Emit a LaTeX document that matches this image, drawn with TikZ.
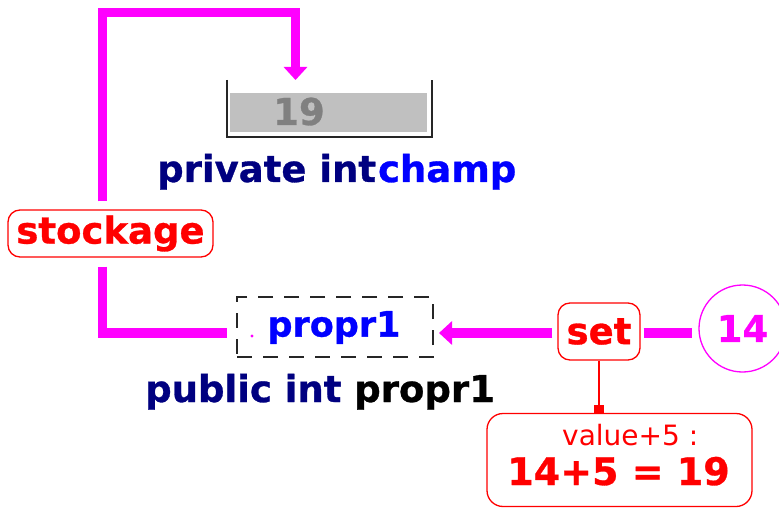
\documentclass[tikz,border=0pt]{standalone}
\usepackage{fontspec}
\setmainfont{DejaVu Sans}[BoldFeatures={FakeBold=0.8}]
\usetikzlibrary{arrows.meta}
\definecolor{navy}{RGB}{0,0,128}
\definecolor{pblue}{RGB}{0,0,255}
\definecolor{mag}{RGB}{255,0,255}
\definecolor{pred}{RGB}{255,0,0}
\definecolor{cellgray}{RGB}{192,192,192}
\definecolor{digitgray}{RGB}{128,128,128}
\newcommand{\bigb}{\fontsize{37}{40}\selectfont\bfseries}
\begin{document}
\begin{tikzpicture}[x=1pt,y=-1pt,
  magline/.style={draw=mag,line width=9.5pt},
  magtip/.style={-{Triangle[length=13pt,width=23pt]}},
  redbox/.style={draw=pred,line width=1.3pt,rounded corners=12pt,inner sep=0pt},
  lbl/.style={inner sep=0pt,anchor=base west,font=\bigb},
]
\useasboundingbox (0,0) rectangle (779,508);
\clip (0,0) rectangle (779,508);
\fill[white] (0,0) rectangle (779,508);

% storage cell
\node[fill=cellgray,minimum width=197pt,minimum height=39pt,inner sep=0pt] (cell) at (328.5,112.5) {};
\draw[line width=2pt,black!85] (227,80) -- (227,137) -- (432,137) -- (432,80);
\node[inner sep=0pt,text=digitgray,font=\bigb] (val) at (299,111.5) {19};
\coordinate (boxtop) at (295.5,80);
\coordinate (topright) at (295.5,12.5);

\node[lbl] (privlabel) at (157,182) {\textcolor{navy}{private int}\hspace{2pt}\textcolor{pblue}{champ}};

% stockage
\node[redbox,minimum width=205pt,minimum height=47pt,text=pred,font=\bigb] (stockage) at (110.5,233.5) {stockage};

% property box
\node[draw=black!85,line width=2pt,dash pattern=on 15pt off 11pt,minimum width=196pt,minimum height=60pt,inner sep=0pt] (propbox) at (335,327) {};
\node[inner sep=0pt,text=pblue,font=\fontsize{35}{38}\selectfont\bfseries] (proptext) at (334,327.5) {propr1};
\fill[mag] (252,336) circle (1.6pt);

\node[lbl] (publabel) at (145,402) {\textcolor{navy}{public int} \textcolor{black}{propr1}};

% set
\node[redbox,minimum width=82pt,minimum height=57pt,text=pred,font=\bigb] (set) at (599,331.5) {set};
% value 14
\node[draw=mag,line width=1.3pt,circle,minimum size=87pt,inner sep=0pt,text=mag,font=\bigb] (circ) at (742.5,328.5) {14};

% calculation
\node[draw=pred,line width=1.3pt,rounded corners=16pt,minimum width=265pt,minimum height=93pt,inner sep=0pt] (calc) at (619.5,460) {};
\node[inner sep=0pt,anchor=base west,text=pred,font=\fontsize{28}{30}\selectfont] (calc1) at (562,445) {value+5 :};
\node[inner sep=0pt,anchor=base,text=pred,font=\fontsize{38}{40}\selectfont\bfseries] (calc2) at (618.5,485) {14+5 = 19};

% connectors
\draw[magline,magtip,shorten <=8pt] ([xshift=-8pt]stockage.north) |- (topright) -- (boxtop);
\draw[magline,shorten <=9pt,shorten >=9pt] ([xshift=-8pt]stockage.south) |- ([yshift=-6pt]propbox.west);
\draw[magline,magtip,shorten <=5pt,shorten >=5pt] ([yshift=-1.5pt]set.west) -- ([yshift=-1.5pt]set.west -| propbox.east);
\draw[magline,shorten <=3pt,shorten >=6pt] ([yshift=-1.5pt]set.east) -- ([yshift=-1.5pt]set.east -| circ.west);
\draw[draw=pred,line width=1.5pt,-{Square[length=8pt,width=10pt]}] (set.south) -- (set.south |- calc.north);
\end{tikzpicture}
\end{document}
